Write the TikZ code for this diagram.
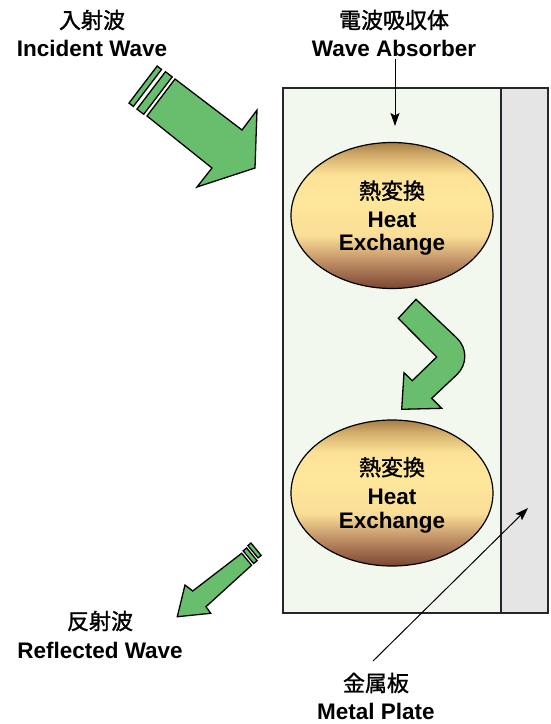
\documentclass[tikz,border=0pt]{standalone}
\usepackage{fontspec}
\setmainfont{Liberation Sans}
\newfontfamily\jp{Noto Sans CJK JP}[FakeBold=1.3]
\usetikzlibrary{arrows.meta,shapes.geometric}
\definecolor{arrowgreen}{RGB}{104,190,108}
\definecolor{absfill}{RGB}{242,248,238}
\definecolor{metalfill}{RGB}{229,229,229}
\pgfdeclareverticalshading{heat}{100bp}{rgb(0bp)=(.478,.275,.204); rgb(25bp)=(.478,.275,.204); rgb(34bp)=(.745,.55,.39); rgb(43bp)=(.98,.87,.59); rgb(55bp)=(.996,.906,.608); rgb(64bp)=(.988,.886,.588); rgb(71bp)=(.82,.667,.41); rgb(75bp)=(.647,.49,.275); rgb(100bp)=(.647,.49,.275)}
\begin{document}
\begin{tikzpicture}[x=1pt,y=-1pt,
  lat/.style={font=\fontsize{22.5}{26}\selectfont\bfseries, inner xsep=0pt, inner ysep=3pt, anchor=base},
  cjk/.style={font=\fontsize{22}{26}\selectfont\jp, inner sep=0pt, anchor=center},
  wavearrow/.style={fill=arrowgreen, draw=black, line width=1.3pt, line join=miter},
  ptr/.style={draw=black, line width=1pt, -{Stealth[length=13pt,width=9pt,inset=2.5pt]}},
  heatnode/.style={ellipse, draw=black, line width=1.2pt, shading=heat, minimum width=202pt, minimum height=146pt, inner sep=0pt},
  plate/.style={draw=black!85, line width=1.2pt}
]
\useasboundingbox (0,0) rectangle (550,724);
\fill[white] (0,0) rectangle (550,724);

% absorber and metal plate
\draw[plate, fill=absfill] (283,88) rectangle (501,613);
\draw[plate, fill=metalfill] (501,88) rectangle (548,613);

% heat exchange ellipses
\node[heatnode] (he1) at (392,215.5) {};
\node[heatnode] (he2) at (392,493) {};
\node[cjk] (h1j) at (392,190.7) {熱変換};
\node[lat] (h1a) at (392,227.5) {Heat};
\node[lat] (h1b) at (392,250.7) {Exchange};
\node[cjk] (h2j) at (392,467.2) {熱変換};
\node[lat] (h2a) at (392,504) {Heat};
\node[lat] (h2b) at (392,528) {Exchange};

% curved arrow between ellipses
\draw[wavearrow] (398.3,318.3) -- (416,299.3) -- (456.7,337.9)
  .. controls (467.5,348.1) and (467.5,364.6) .. (456.8,374.7)
  -- (431.7,398.3) -- (441.7,408.3) -- (401.7,409.3) -- (404,372.7)
  -- (412.3,380.7) -- (436.7,357) -- cycle;

% incident wave arrow
\draw[wavearrow] (175,79) -- (242,130) -- (257,110) -- (255,168) -- (197,187) -- (212,168) -- (147,116) -- cycle;
\begin{scope}[shift={(175,79)}, x={(-0.796pt,0.606pt)}, y={(-0.606pt,-0.796pt)}]
  \draw[wavearrow] (3.5,0) -- (12,0) -- (12,47) -- (3.5,47) -- cycle;
  \draw[wavearrow] (16.5,0.5) -- (22,0.5) -- (22,47) -- (16.5,47) -- cycle;
\end{scope}

% reflected wave arrow
\draw[wavearrow] (241.7,553.3) -- (192.7,591) -- (185,585) -- (177.3,616.7) -- (210.7,613.3) -- (206,606.7) -- (251.6,565.2) -- cycle;
\begin{scope}[shift={(241.7,553.3)}, x={(0.77pt,0.636pt)}, y={(0.636pt,-0.77pt)}]
  \draw[wavearrow] (2.7,-1) -- (7.2,-1) -- (7.2,15.5) -- (2.7,15.5) -- cycle;
  \draw[wavearrow] (9.7,-2) -- (13.7,-2) -- (13.7,14) -- (9.7,14) -- cycle;
\end{scope}

% labels
\node[cjk] (ijp) at (92,20) {入射波};
\node[lat] (ien) at (92,56) {Incident Wave};
\node[cjk] (wjp) at (394,20) {電波吸収体};
\node[lat] (wa) at (394,56) {Wave Absorber};
\node[cjk] (rjp) at (100,621) {反射波};
\node[lat] (ren) at (100,658) {Reflected Wave};
\node[cjk] (mjp) at (376,683) {金属板};
\node[lat] (men) at (376,719.5) {Metal Plate};

% pointers
\coordinate (absin) at (395,126);
\draw[ptr] (wa.south -| absin) -- (absin);
\coordinate (mpfrom) at (373,661);
\coordinate (mpto) at (528,508);
\draw[ptr] (mpfrom) -- (mpto);
\end{tikzpicture}
\end{document}
